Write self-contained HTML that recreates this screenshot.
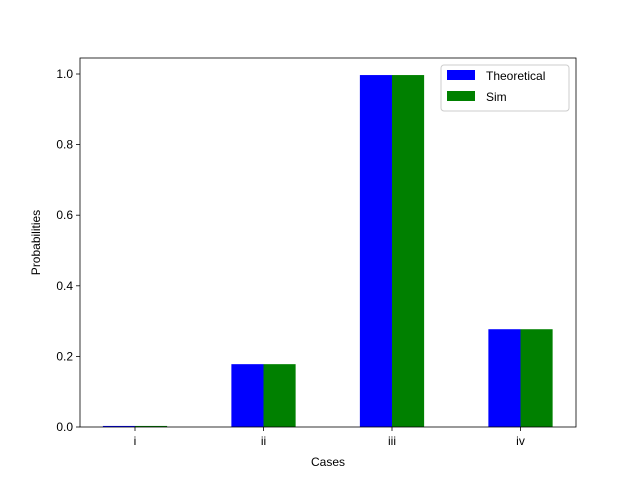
<!DOCTYPE html>
<html><head><meta charset="utf-8"><style>body{margin:0;background:#fff}svg text{font-family:"Liberation Sans","DejaVu Sans",sans-serif}</style></head>
<body>
<svg id="c" width="640" height="480" xmlns="http://www.w3.org/2000/svg"></svg>
<script>
const categories = ["i","ii","iii","iv"];
const theoretical = [0.003, 0.178, 0.997, 0.277];
const sim = [0.003, 0.178, 0.997, 0.277];
const yTicks = [0.0, 0.2, 0.4, 0.6, 0.8, 1.0];
const L=80,R=576,T=58,B=427;
const xs=i=>135+i*128.5;
const ys=v=>B-v*353;
const svg=document.getElementById('c');
const NS="http://www.w3.org/2000/svg";
function mk(t,a,p){const e=document.createElementNS(NS,t);for(const k in a)e.setAttribute(k,a[k]);(p||svg).appendChild(e);return e;}
const bw=0.25*128.5;
categories.forEach((c,i)=>{
 let b=mk('rect',{x:xs(i)-bw,y:ys(theoretical[i]),width:bw,height:B-ys(theoretical[i]),fill:'#0000ff'});
 
 
 let g=mk('rect',{x:xs(i),y:ys(sim[i]),width:bw,height:B-ys(sim[i]),fill:'#008000'});
 
 
 mk('line',{x1:xs(i),x2:xs(i),y1:B,y2:B+4,stroke:'#000','stroke-width':0.8});
 let t=mk('text',{x:xs(i),y:B+18,'font-size':12,'text-anchor':'middle'});t.textContent=c;
 
 
});
yTicks.forEach(v=>{
 mk('line',{x1:L-4,x2:L,y1:ys(v),y2:ys(v),stroke:'#000','stroke-width':0.8});
 let t=mk('text',{x:L-7,y:ys(v)+4,'font-size':12,'text-anchor':'end'});t.textContent=v.toFixed(1);
 
 
});
let f=mk('rect',{x:L,y:T,width:R-L,height:B-T,fill:'none',stroke:'#000','stroke-width':0.8});


let xt=mk('text',{x:(L+R)/2,y:466,'font-size':12,'text-anchor':'middle'});xt.textContent='Cases';


let yt=mk('text',{x:40,y:(T+B)/2,'font-size':12,'text-anchor':'middle',transform:'rotate(-90 40 '+(T+B)/2+')'});yt.textContent='Probabilities';


const lg=mk('g',{});


mk('rect',{x:441,y:65,width:128,height:46,rx:3,fill:'#fff','fill-opacity':0.8,stroke:'#ccc'},lg);
[['Theoretical','#0000ff',70],['Sim','#008000',91]].forEach(([n,c,y])=>{
 mk('rect',{x:447,y:y,width:28,height:10,fill:c},lg);
 let t=mk('text',{x:486,y:y+10,'font-size':12},lg);t.textContent=n;
 
 
});
</script>
</body></html>
